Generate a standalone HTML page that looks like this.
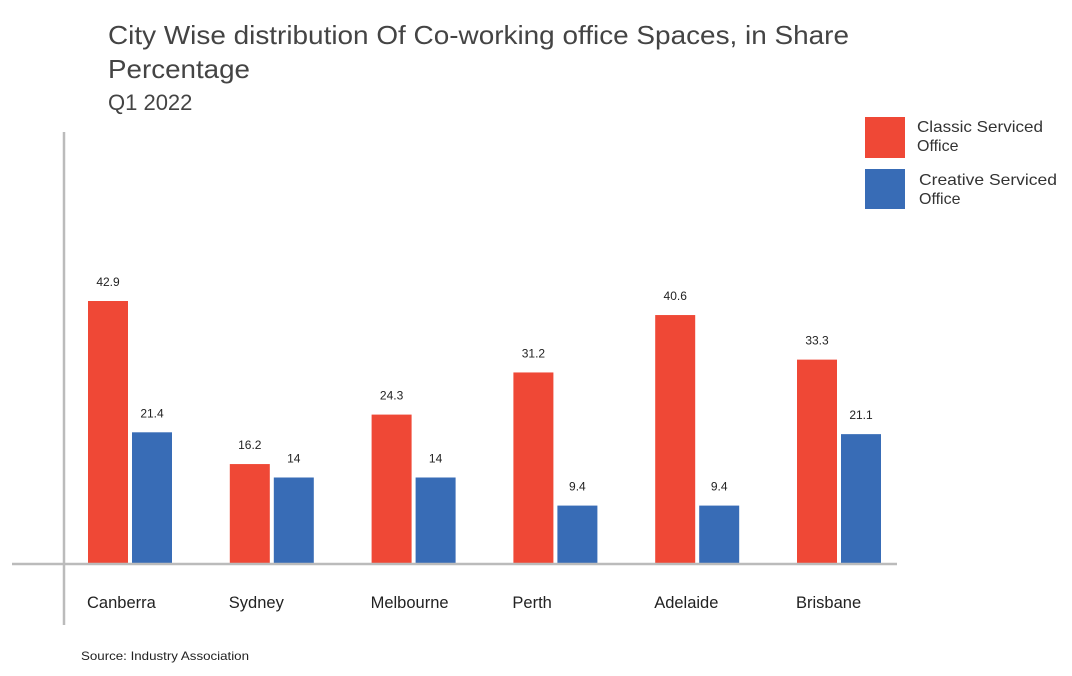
<!DOCTYPE html>
<html><head><meta charset="utf-8"><style>
body{margin:0;background:#fff;font-family:"Liberation Sans",sans-serif;}
svg text{font-family:"Liberation Sans",sans-serif;}
</style></head><body>
<svg id="chart" width="1072" height="671" viewBox="0 0 1072 671" xmlns="http://www.w3.org/2000/svg">
<text x="108" y="44" font-size="26" fill="#444" textLength="741" lengthAdjust="spacingAndGlyphs">City Wise distribution Of Co-working office Spaces, in Share</text>
<text x="108" y="78" font-size="26" fill="#444" textLength="142" lengthAdjust="spacingAndGlyphs">Percentage</text>
<text x="108" y="110" font-size="22" fill="#444">Q1 2022</text>
<line x1="64" y1="132" x2="64" y2="625" stroke="#bbb" stroke-width="2.5"/>
<g id="bars"></g>
<line x1="12" y1="564" x2="897" y2="564" stroke="#bbb" stroke-width="2.5"/>
<g>
<rect x="865" y="117" width="40" height="41" fill="#EF4836"/>
<text x="917" y="132" font-size="16" fill="#333" textLength="126" lengthAdjust="spacingAndGlyphs">Classic Serviced</text>
<text x="917" y="151" font-size="16" fill="#333">Office</text>
<rect x="865" y="169" width="40" height="40" fill="#386CB6"/>
<text x="919" y="185" font-size="16" fill="#333" textLength="138" lengthAdjust="spacingAndGlyphs">Creative Serviced</text>
<text x="919" y="204" font-size="16" fill="#333">Office</text>
</g>
<text x="81" y="660" font-size="12" fill="#222" textLength="168" lengthAdjust="spacingAndGlyphs">Source: Industry Association</text>
</svg>
<script>
const categories=["Canberra","Sydney","Melbourne","Perth","Adelaide","Brisbane"];
const classicValues=[42.9,16.2,24.3,31.2,40.6,33.3];
const creativeValues=[21.4,14,14,9.4,9.4,21.1];
const valueLabelsClassic=["42.9","16.2","24.3","31.2","40.6","33.3"];
const valueLabelsCreative=["21.4","14","14","9.4","9.4","21.1"];
const NS="http://www.w3.org/2000/svg";
const g=document.getElementById('bars');
const baseY=563, pxPer=262/42.9, x0=88, step=141.8, bw=40, gap=44;
function yScale(v){return baseY-v*pxPer;}
function xScale(i){return x0+i*step;}
function mk(t,a){const e=document.createElementNS(NS,t);for(const k in a)e.setAttribute(k,a[k]);return e;}
categories.forEach((c,i)=>{
  const x=xScale(i);
  [[classicValues,valueLabelsClassic,"#EF4836",0,"classic"],[creativeValues,valueLabelsCreative,"#386CB6",gap,"creative"]].forEach(([vals,labs,col,off,nm])=>{
    const y=yScale(vals[i]);
    const r=mk('rect',{x:x+off,y:y,width:bw,height:baseY-y,fill:col});
    
    
    g.appendChild(r);
    const t=mk('text',{x:x+off+bw/2,y:y-15,'font-size':12,'text-anchor':'middle',fill:'#222'});
    
    
    t.textContent=labs[i];g.appendChild(t);
  });
  const l=mk('text',{x:x-1,y:608,'font-size':16.5,fill:'#222'});
  
  
  l.textContent=c;g.appendChild(l);
});
</script>
</body></html>
